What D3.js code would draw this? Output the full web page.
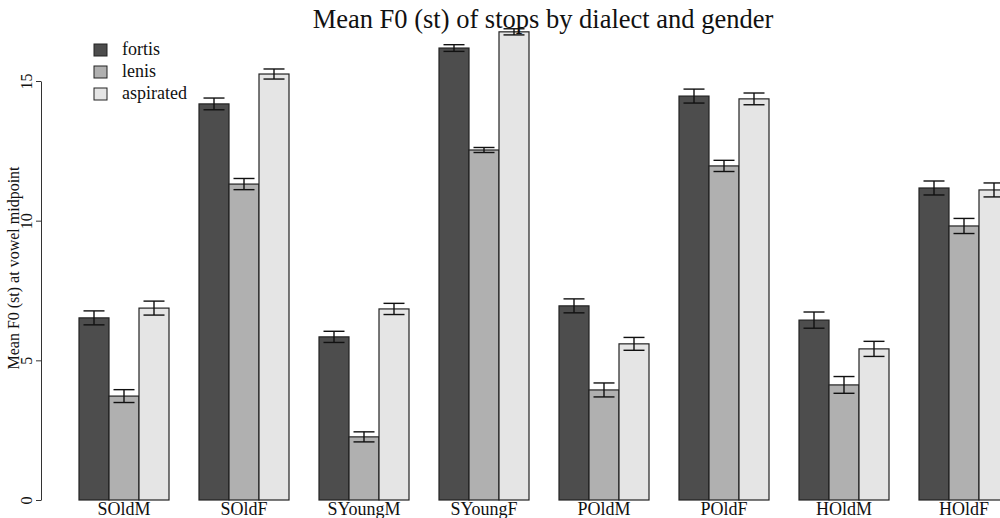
<!DOCTYPE html>
<html>
<head>
<meta charset="utf-8">
<script src="https://cdn.jsdelivr.net/npm/d3@7"></script>
<style>
  body { margin: 0; background: #fff; }
  svg { display: block; }
  svg text { font-family: "Liberation Serif", "DejaVu Serif", serif; }
</style>
</head>
<body>
<svg id="chart" width="1000" height="518"></svg>
<script>
// groups along the x axis
var groups = ["SOldM", "SOldF", "SYoungM", "SYoungF", "POldM", "POldF", "HOldM", "HOldF"];
var series = ["fortis", "lenis", "aspirated"];

// means (st) per series, one value per group
var fortis    = [6.52, 14.18, 5.84, 16.18, 6.95, 14.46, 6.44, 11.17];
var lenis     = [3.72, 11.31, 2.26, 12.53, 3.94, 11.96, 4.12, 9.81];
var aspirated = [6.87, 15.25, 6.84, 16.76, 5.59, 14.36, 5.41, 11.10];

// half-width of the error bars
var fortisErr    = [0.25, 0.21, 0.20, 0.12, 0.25, 0.25, 0.29, 0.25];
var lenisErr     = [0.23, 0.20, 0.18, 0.09, 0.25, 0.20, 0.30, 0.27];
var aspiratedErr = [0.25, 0.18, 0.20, 0.11, 0.23, 0.21, 0.27, 0.25];

var yTicks = [0, 5, 10, 15];

var colors = {fortis: "#4d4d4d", lenis: "#b0b0b0", aspirated: "#e5e5e5"};

var means = {fortis: fortis, lenis: lenis, aspirated: aspirated};
var errs = {fortis: fortisErr, lenis: lenisErr, aspirated: aspiratedErr};

var serif = "'Liberation Serif', 'DejaVu Serif', serif";

var svg = d3.select("#chart");

var x = d3.scaleBand()
    .domain(groups)
    .range([79, 1009])
    .paddingInner(0.25)
    .paddingOuter(0);

var xs = d3.scaleBand()
    .domain(series)
    .range([0, x.bandwidth()]);

var y = d3.scaleLinear()
    .domain([0, 15])
    .range([500, 81]);

// flatten into one list of bars
var bars = [];
groups.forEach(function (g, i) {
    series.forEach(function (s) {
        bars.push({group: g, series: s, value: means[s][i], err: errs[s][i]});
    });
});

svg.append("g")
    .selectAll("rect")
    .data(bars)
    .enter().append("rect")
    .attr("x", function (d) { return x(d.group) + xs(d.series); })
    .attr("y", function (d) { return y(d.value); })
    .attr("width", xs.bandwidth())
    .attr("height", function (d) { return y(0) - y(d.value); })
    .attr("fill", function (d) { return colors[d.series]; })
    .attr("stroke", "#222")
    .attr("stroke-width", 1.2);

// error bars
var eb = svg.append("g")
    .attr("stroke", "#111")
    .attr("stroke-width", 1.4)
    .selectAll("g")
    .data(bars)
    .enter().append("g")
    .attr("transform", function (d) {
        return "translate(" + (x(d.group) + xs(d.series) + xs.bandwidth() / 2) + ",0)";
    });
eb.append("line")
    .attr("y1", function (d) { return y(d.value - d.err); })
    .attr("y2", function (d) { return y(d.value + d.err); });
eb.append("line")
    .attr("x1", -10.5).attr("x2", 10.5)
    .attr("y1", function (d) { return y(d.value + d.err); })
    .attr("y2", function (d) { return y(d.value + d.err); });
eb.append("line")
    .attr("x1", -10.5).attr("x2", 10.5)
    .attr("y1", function (d) { return y(d.value - d.err); })
    .attr("y2", function (d) { return y(d.value - d.err); });

// y axis, R style with rotated labels
var yAxis = svg.append("g")
    .attr("transform", "translate(41,0)")
    .call(d3.axisLeft(y).tickValues(yTicks).tickSize(5).tickSizeOuter(0))
    .attr("font-family", serif)
    .attr("font-size", 16);
yAxis.select(".domain").attr("stroke", "#333");
yAxis.selectAll(".tick line").attr("stroke", "#333");
yAxis.selectAll(".tick text")
    .attr("x", 0).attr("dy", 0)
    .attr("transform", "translate(-9,0) rotate(-90)")
    .attr("text-anchor", "middle")
    .attr("fill", "#111");

// group labels
svg.append("g")
    .selectAll("text")
    .data(groups)
    .enter().append("text")
    .attr("x", function (d) { return x(d) + x.bandwidth() / 2; })
    .attr("y", 515)
    .attr("text-anchor", "middle")
    .attr("font-family", serif)
    .attr("font-size", 18)
    .attr("fill", "#111")
    .text(function (d) { return d; });

// title
svg.append("text")
    .attr("x", 543)
    .attr("y", 28)
    .attr("text-anchor", "middle")
    .attr("font-family", serif)
    .attr("font-size", 26.5)
    .attr("fill", "#111")
    .text("Mean F0 (st) of stops by dialect and gender");

// y axis title
svg.append("text")
    .attr("transform", "translate(19,268) rotate(-90)")
    .attr("text-anchor", "middle")
    .attr("font-family", serif)
    .attr("font-size", 16)
    .attr("fill", "#111")
    .text("Mean F0 (st) at vowel midpoint");

// legend
var leg = svg.append("g")
    .selectAll("g")
    .data(series)
    .enter().append("g")
    .attr("transform", function (d, i) { return "translate(94," + (44 + i * 22) + ")"; });
leg.append("rect")
    .attr("width", 13).attr("height", 12)
    .attr("fill", function (d) { return colors[d]; })
    .attr("stroke", "#222");
leg.append("text")
    .attr("x", 28).attr("y", 11)
    .attr("font-family", serif)
    .attr("font-size", 18)
    .attr("fill", "#111")
    .text(function (d) { return d; });
</script>
</body>
</html>
